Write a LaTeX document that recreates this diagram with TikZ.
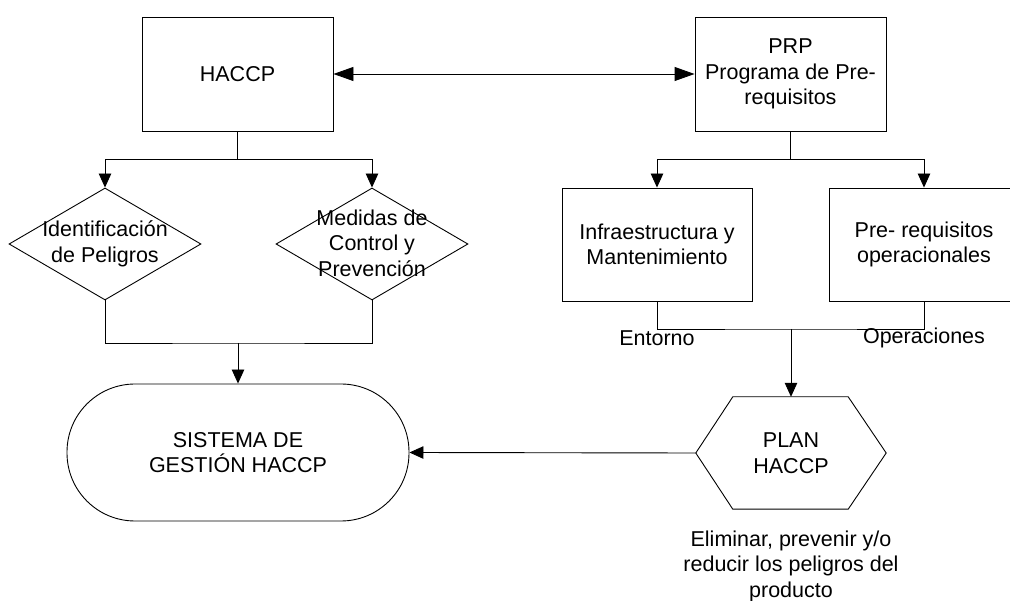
\documentclass[tikz,border=0pt]{standalone}
\usepackage{fontspec}
\setmainfont{Liberation Sans}
\usetikzlibrary{arrows.meta,shapes.geometric,calc}
\begin{document}
\begin{tikzpicture}[x=1pt,y=-1pt,
  every node/.style={font=\fontsize{21.5}{25.5}\selectfont, align=center, inner sep=0pt},
  boxn/.style={draw, line width=0.9pt, minimum width=191pt, minimum height=114pt},
  diam/.style={draw, diamond, line width=0.9pt, minimum width=192pt, minimum height=112pt},
  conn/.style={line width=0.9pt},
  arr/.style={conn, -{Triangle[length=14pt,width=12.5pt]}},
  darr/.style={conn, {Triangle[length=20pt,width=14pt]}-{Triangle[length=20pt,width=14pt]}}
]
\useasboundingbox (0,0) rectangle (1010,601);
\clip (0,0) rectangle (1010,601);
% top boxes
\node[boxn] (haccp) at (237.5,74) {HACCP};
\node[boxn] (prp) at (790.5,74) {PRP\\Programa de Pre-\\requisitos};
% diamonds
\node[diam] (d1) at (105,244) {};
\node (d1t) at (105,244) {Identificación\\de Peligros};
\node[diam] (d2) at (372,244) {};
\node (d2t) at (372,243) {Medidas de\\Control y\\Prevención};
% right boxes
\node[boxn, minimum width=190pt, minimum height=113pt] (infra) at (657,244.5) {Infraestructura y\\Mantenimiento};
\node[boxn, minimum width=190pt, minimum height=113pt] (preq) at (924,244.5) {Pre- requisitos\\operacionales};
% terminal
\node[draw, line width=0.9pt, rounded corners=68pt, minimum width=342pt, minimum height=137pt] (sys) at (238,452.5) {SISTEMA DE\\GESTIÓN HACCP};
% hexagon
\node[minimum width=190pt, minimum height=112pt] (plan) at (791,453) {PLAN\\HACCP};
\draw[conn] (plan.west) -- ($(plan.north west)+(37,0)$) -- ($(plan.north east)+(-38,0)$) -- (plan.east)
  -- ($(plan.south east)+(-38,0)$) -- ($(plan.south west)+(37,0)$) -- cycle;
% labels
\node (ent) at (657,338) {Entorno};
\node (ope) at (924,338) {Operaciones};
\node (elim) at (791,566) {Eliminar, prevenir y/o\\reducir los peligros del\\producto};
% connectors
\draw[darr] (haccp.east) -- (prp.west);
\coordinate (s1) at (237.5,159);
\draw[conn] (haccp.south) -- (s1);
\draw[arr] (s1) -| (d1.north);
\draw[arr] (s1) -| (d2.north);
\coordinate (j1) at (238,343);
\draw[conn] (d1.south) |- (j1) -| (d2.south);
\draw[arr] (j1) -- (sys.north);
\coordinate (s2) at (790.5,159);
\draw[conn] (prp.south) -- (s2);
\draw[arr] (s2) -| (infra.north);
\draw[arr] (s2) -| (preq.north);
\coordinate (j2) at (791,329);
\draw[conn] (infra.south) |- (j2) -| (preq.south);
\draw[arr] (j2) -- (plan.north);
\draw[arr] (plan.west) -- (sys.east);
\end{tikzpicture}
\end{document}
